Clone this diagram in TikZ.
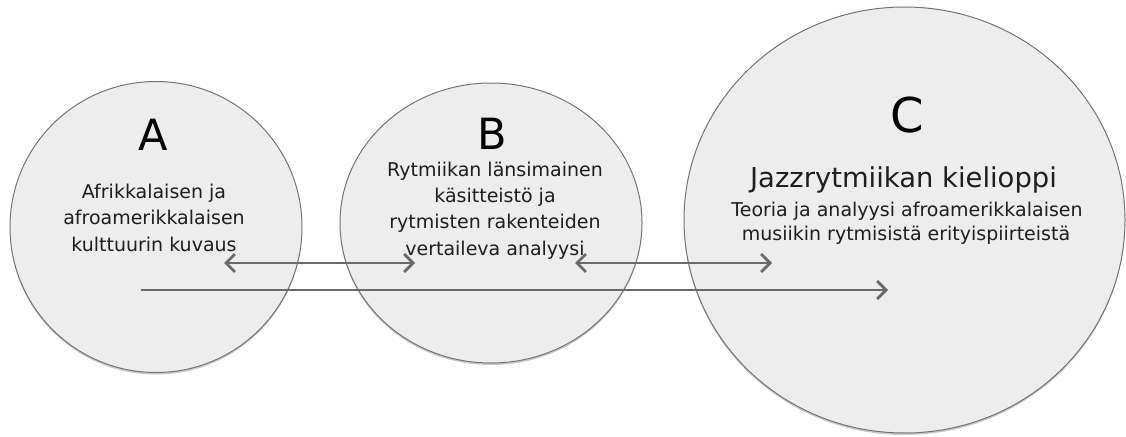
\documentclass[tikz,border=0pt]{standalone}
\usepackage{fontspec}
\setmainfont{DejaVu Sans}
\usetikzlibrary{arrows.meta,shapes.geometric,shadows}
\definecolor{bubblefill}{HTML}{EDEDED}
\definecolor{rim}{HTML}{747474}
\definecolor{arrowgray}{HTML}{6A6A6A}
\definecolor{txt}{HTML}{1E1E1E}
\tikzset{
  bubble/.style={ellipse, draw=rim, line width=1pt, fill=bubblefill, inner sep=0pt, outer sep=0pt,
    drop shadow={shadow xshift=0pt, shadow yshift=-2pt, opacity=0.22, fill=black}},
  bigletter/.style={anchor=base, inner sep=0pt, text=black, font=\fontsize{43}{50}\selectfont},
  midletter/.style={anchor=base, inner sep=0pt, text=black, font=\fontsize{48}{56}\selectfont},
  title/.style={anchor=base, inner sep=0pt, text=txt, font=\fontsize{27.4}{32}\selectfont},
  desc/.style={anchor=base, inner sep=0pt, text=txt, font=\fontsize{19}{24}\selectfont},
  link/.style={draw=arrowgray, line width=2.8pt}
}
\begin{document}
\begin{tikzpicture}[x=1pt, y=-1pt]
\useasboundingbox (0,0) rectangle (1126,436);
% circles
\node[bubble, minimum width=292pt, minimum height=291pt] (A) at (156,227) {};
\node[bubble, minimum width=302pt, minimum height=280pt] (B) at (491,223) {};
\node[bubble, minimum width=441pt, minimum height=426pt] (C) at (904.5,220) {};
% texts A
\node[bigletter] (Aletter) at (153,150) {A};
\node[desc] (a1) at (154,198) {Afrikkalaisen ja};
\node[desc] (a2) at (154,224.5) {afroamerikkalaisen};
\node[desc] (a3) at (154,251) {kulttuurin kuvaus};
% texts B
\node[bigletter] (Bletter) at (492,149) {B};
\node[desc] (b1) at (495,176) {Rytmiikan länsimainen};
\node[desc] (b2) at (495,202) {käsitteistö ja};
\node[desc] (b3) at (495,228.5) {rytmisten rakenteiden};
\node[desc] (b4) at (495,255) {vertaileva analyysi};
% texts C
\node[midletter] (Cletter) at (907,132) {C};
\node[title] (c0) at (903.5,187) {Jazzrytmiikan kielioppi};
\node[desc] (c1) at (907,216) {Teoria ja analyysi afroamerikkalaisen};
\node[desc] (c2) at (906,240) {musiikin rytmisistä erityispiirteistä};
% arrow end points
\coordinate (ab1) at (224,263);
\coordinate (ab2) at (415,263);
\coordinate (bc1) at (575,263);
\coordinate (bc2) at (772,263);
\coordinate (ac1) at (141,290);
\coordinate (ac2) at (888,290);
\draw[link, {Straight Barb[length=9pt, width=18pt]}-{Straight Barb[length=9pt, width=18pt]}] (ab1) -- (ab2);
\draw[link, {Straight Barb[length=9pt, width=18pt]}-{Straight Barb[length=9pt, width=18pt]}] (bc1) -- (bc2);
\draw[link, -{Straight Barb[length=9pt, width=18pt]}] (ac1) -- (ac2);
\end{tikzpicture}
\end{document}
